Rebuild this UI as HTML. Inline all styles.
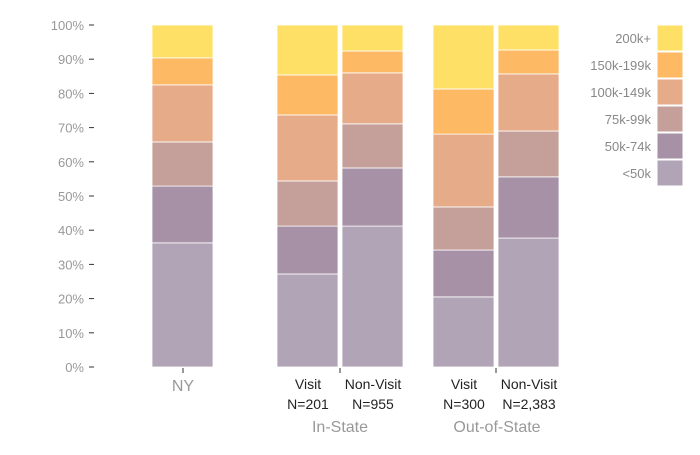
<!DOCTYPE html>
<html><head><meta charset="utf-8"><style>
body{margin:0;background:#fff;}
svg text{font-family:"Liberation Sans",sans-serif;}
</style></head><body>
<svg id="chart" width="700" height="450"></svg>
<script>
const categories=["NY","Visit","Non-Visit","Visit","Non-Visit"];
const bands=["<50k","50k-74k","75k-99k","100k-149k","150k-199k","200k+"];
const s_lt50=[36.3,27.2,41.2,20.5,37.7];
const s_50_74=[16.6,14.0,17.0,13.7,17.9];
const s_75_99=[12.9,13.2,12.9,12.6,13.4];
const s_100_149=[16.7,19.3,14.9,21.3,16.7];
const s_150_199=[7.9,11.7,6.4,13.2,7.0];
const s_200p=[9.6,14.6,7.6,18.7,7.3];
const yTicks=[0,10,20,30,40,50,60,70,80,90,100];
const colors=["#b0a4b6","#a791a6","#c59f99","#e6ab88","#fdb964","#fee066"];
const series=[s_lt50,s_50_74,s_75_99,s_100_149,s_150_199,s_200p];
const barX=[152,277,342,433,498], barW=61;
const y=v=>367-v*3.42;
const NS="http://www.w3.org/2000/svg";
const svg=document.getElementById('chart');
function mk(t,a){const e=document.createElementNS(NS,t);for(const k in a)e.setAttribute(k,a[k]);svg.appendChild(e);return e;}
yTicks.forEach(t=>{
 const l=mk('line',{x1:89,x2:94,y1:y(t),y2:y(t),stroke:'#333','stroke-width':1});
 
 
 const tx=mk('text',{x:84,y:y(t)+5,'text-anchor':'end','font-size':13,fill:'#999'});
 tx.textContent=t+'%';
 
 
});
categories.forEach((c,i)=>{
 let cum=0;
 series.forEach((s,j)=>{
  const v=s[i];
  const r=mk('rect',{x:barX[i],y:y(cum+v),width:barW,height:v*3.42,fill:colors[j],stroke:'#fff','stroke-width':0.8});
  
  
  cum+=v;
 });
});
// x ticks
[[183],[340],[496]].forEach(([x])=>{
 const l=mk('line',{x1:x,x2:x,y1:368,y2:373,stroke:'#333'});
 
 
});
function txt(s,x,yy,size,fill,name){const t=mk('text',{x:x,y:yy,'text-anchor':'middle','font-size':size,fill:fill});t.textContent=s;}
txt("NY",183,391,16,'#999','x-label-ny');
txt("Visit",308,389,14,'#222','x-label-instate-visit');
txt("N=201",308,409,14,'#222','n-instate-visit');
txt("Non-Visit",373,389,14,'#222','x-label-instate-nonvisit');
txt("N=955",373,409,14,'#222','n-instate-nonvisit');
txt("In-State",340,432,16,'#999','group-label-instate');
txt("Visit",464,389,14,'#222','x-label-out-visit');
txt("N=300",464,409,14,'#222','n-out-visit');
txt("Non-Visit",529,389,14,'#222','x-label-out-nonvisit');
txt("N=2,383",529,409,14,'#222','n-out-nonvisit');
txt("Out-of-State",497,432,16,'#999','group-label-outstate');
// legend
bands.slice().reverse().forEach((b,k)=>{
 const j=5-k, yy=25+k*27;
 const r=mk('rect',{x:657,y:yy,width:26,height:26,fill:colors[j],stroke:'#fff'});
 
 
 const t=mk('text',{x:651,y:yy+18,'text-anchor':'end','font-size':13,fill:'#888'});
 t.textContent=b;
 
 
});
</script>
</body></html>
